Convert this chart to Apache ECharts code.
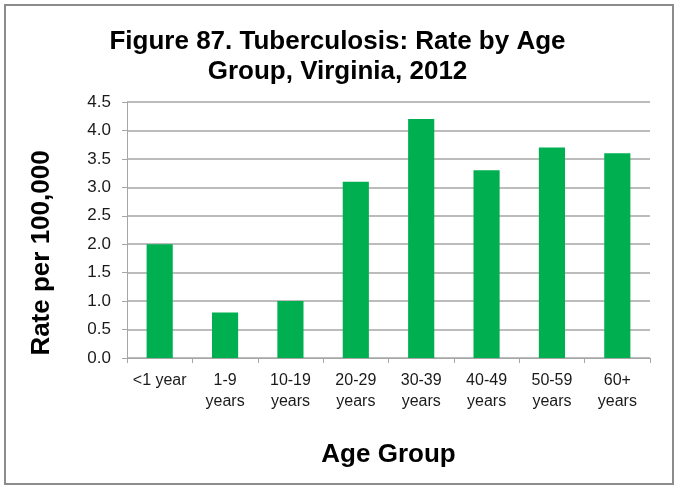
<!DOCTYPE html>
<html>
<head>
    <meta charset="utf-8">
    <title>Tuberculosis rate by age group</title>
    <script src="https://cdn.jsdelivr.net/npm/echarts@6/dist/echarts.min.js"></script>
    <style>
        html, body { margin: 0; padding: 0; background: #fff; }
        #chart { width: 675px; height: 485px; }
    </style>
</head>
<body>
    <div id="chart"></div>
    <script>
        var ageGroups = ['<1 year', '1-9\nyears', '10-19\nyears', '20-29\nyears', '30-39\nyears', '40-49\nyears', '50-59\nyears', '60+\nyears'];
        var rates = [2.0, 0.8, 1.0, 3.1, 4.2, 3.3, 3.7, 3.6];

        var chart = echarts.init(document.getElementById('chart'));

        var option = {
            animation: false,
            graphic: [
                {
                    type: 'rect',
                    shape: { x: 5, y: 5, width: 668, height: 479 },
                    style: { fill: 'none', stroke: '#8c8c8c', lineWidth: 2 }
                }
            ],
            title: {
                text: 'Figure 87. Tuberculosis: Rate by Age\nGroup, Virginia, 2012',
                left: 'center',
                top: 22,
                textStyle: {
                    fontFamily: 'Liberation Sans',
                    fontWeight: 'bold',
                    fontSize: 26,
                    lineHeight: 30,
                    color: '#000'
                }
            },
            grid: {
                left: 127,
                right: 25,
                top: 102,
                bottom: 127
            },
            xAxis: {
                type: 'category',
                data: ageGroups,
                name: 'Age Group',
                nameLocation: 'middle',
                nameGap: 84,
                nameTextStyle: {
                    fontFamily: 'Liberation Sans',
                    fontWeight: 'bold',
                    fontSize: 26,
                    color: '#000'
                },
                axisLine: { lineStyle: { color: '#a6a6a6', width: 1 } },
                axisTick: { show: true, length: 5, lineStyle: { color: '#a6a6a6' } },
                axisLabel: {
                    fontFamily: 'Liberation Sans',
                    fontSize: 16,
                    lineHeight: 21,
                    color: '#1a1a1a',
                    margin: 12,
                    interval: 0
                }
            },
            yAxis: {
                type: 'value',
                min: 0,
                max: 4.5,
                interval: 0.5,
                name: 'Rate per 100,000',
                nameLocation: 'middle',
                nameGap: 72,
                nameTextStyle: {
                    fontFamily: 'Liberation Sans',
                    fontWeight: 'bold',
                    fontSize: 26,
                    color: '#000',
                    padding: [0, 46, 0, 0]
                },
                axisLine: { show: true, lineStyle: { color: '#a6a6a6', width: 1 } },
                axisTick: { show: true, length: 5, lineStyle: { color: '#a6a6a6' } },
                splitLine: { lineStyle: { color: '#a6a6a6', width: 1.5 } },
                axisLabel: {
                    fontFamily: 'Liberation Sans',
                    fontSize: 17,
                    color: '#1a1a1a',
                    margin: 16,
                    formatter: function (v) { return v.toFixed(1); }
                }
            },
            series: [
                {
                    type: 'bar',
                    data: rates,
                    barCategoryGap: '60%',
                    itemStyle: { color: '#00b050' }
                }
            ]
        };
        chart.setOption(option);
    </script>
</body>
</html>
